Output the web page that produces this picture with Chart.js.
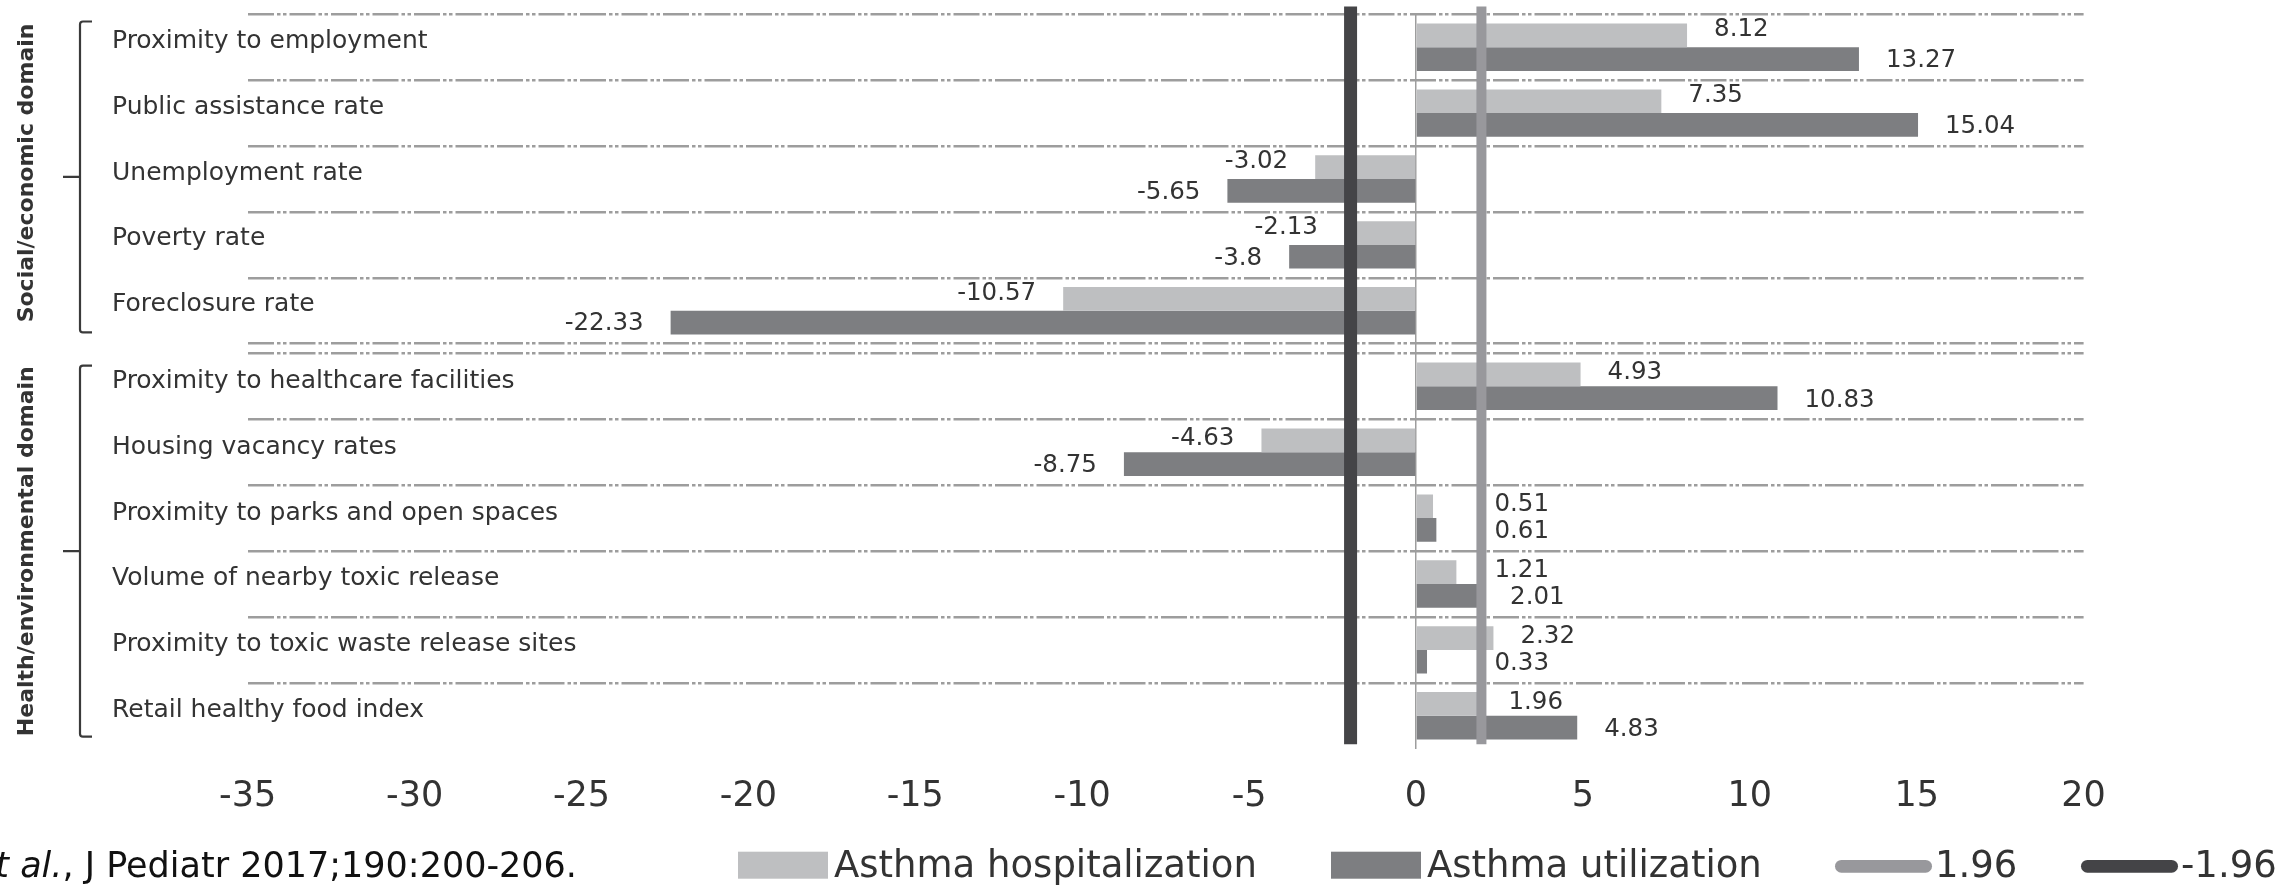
<!DOCTYPE html>
<html>
<head>
<meta charset="utf-8">
<script src="https://cdn.jsdelivr.net/npm/chart.js@4.4.1/dist/chart.umd.min.js"></script>
<style>
  html, body { margin: 0; padding: 0; background: #ffffff; overflow: hidden; }
  canvas { display: block; }
</style>
</head>
<body>
<canvas id="chart" width="2296" height="889"></canvas>
<script>
// ---------------- data ----------------
const socialCategories = ['Proximity to employment', 'Public assistance rate', 'Unemployment rate', 'Poverty rate', 'Foreclosure rate'];
const healthCategories = ['Proximity to healthcare facilities', 'Housing vacancy rates', 'Proximity to parks and open spaces', 'Volume of nearby toxic release', 'Proximity to toxic waste release sites', 'Retail healthy food index'];
const hospitalizationSocial = [8.12, 7.35, -3.02, -2.13, -10.57];
const utilizationSocial = [13.27, 15.04, -5.65, -3.8, -22.33];
const hospitalizationHealth = [4.93, -4.63, 0.51, 1.21, 2.32, 1.96];
const utilizationHealth = [10.83, -8.75, 0.61, 2.01, 0.33, 4.83];
const thresholdValues = [1.96, -1.96];
const thresholdLabels = ['1.96', '-1.96'];
const thresholdSpan = [0, 1];
const seriesNames = ['Asthma hospitalization', 'Asthma utilization'];
const domainTitles = ['Social/economic domain', 'Health/environmental domain'];
const xTickRange = [-35, 20];
const xTickStep = 5;
const citationItalic = 'et al.';
const citationText = ', J Pediatr 2017;190:200-206.';

// ---------------- style ----------------
const FONT = '"DejaVu Sans", sans-serif';
const TEXT = '#333333';
const BAR_LIGHT = '#bebfc1';
const BAR_DARK = '#7d7e81';
const LINE_LIGHT = '#98989c';
const LINE_DARK = '#444447';
const GRID = '#9d9d9d';
const Y_AXIS_WIDTH = 135.7;

// value labels next to bar ends
const valueLabels = {
  id: 'valueLabels',
  afterDatasetsDraw(chart, args, opts) {
    const ctx = chart.ctx;
    const xs = chart.scales.x;
    const guard = xs.getPixelForValue(Math.max(...thresholdValues)) + opts.guard;
    ctx.save();
    ctx.font = opts.size + 'px ' + FONT;
    ctx.fillStyle = TEXT;
    ctx.textBaseline = 'middle';
    chart.data.datasets.forEach((ds, di) => {
      if (ds.type === 'line') return;
      const meta = chart.getDatasetMeta(di);
      const dy = opts.dy[di] || 0;
      meta.data.forEach((el, i) => {
        const v = ds.data[i];
        if (v >= 0) {
          ctx.textAlign = 'left';
          ctx.fillText(String(v), Math.max(el.x + opts.gap, guard), el.y + dy);
        } else {
          ctx.textAlign = 'right';
          ctx.fillText(String(v), el.x - opts.gap, el.y + dy);
        }
      });
    });
    ctx.restore();
  }
};

// domain brackets and rotated titles
const domainBrackets = {
  id: 'domainBrackets',
  afterDraw(chart, args, opts) {
    const ctx = chart.ctx;
    opts.scales.forEach((id, k) => {
      const s = chart.scales[id];
      const top = s.top + opts.inset[k][0];
      const bottom = s.bottom - opts.inset[k][1];
      const mid = (top + bottom) / 2;
      ctx.save();
      ctx.strokeStyle = '#3a3a3a';
      ctx.lineWidth = 2.2;
      ctx.beginPath();
      ctx.moveTo(opts.tickRight, top);
      ctx.lineTo(opts.lineX + 3, top);
      ctx.quadraticCurveTo(opts.lineX, top, opts.lineX, top + 3);
      ctx.lineTo(opts.lineX, bottom - 3);
      ctx.quadraticCurveTo(opts.lineX, bottom, opts.lineX + 3, bottom);
      ctx.lineTo(opts.tickRight, bottom);
      ctx.moveTo(opts.lineX, mid);
      ctx.lineTo(opts.tickLeft, mid);
      ctx.stroke();
      ctx.translate(opts.titleX, mid + opts.titleDy[k]);
      ctx.rotate(-Math.PI / 2);
      ctx.font = 'bold 22px ' + FONT;
      ctx.textAlign = 'center';
      ctx.textBaseline = 'middle';
      ctx.fillStyle = TEXT;
      ctx.fillText(domainTitles[k], 0, 0);
      ctx.restore();
    });
  }
};

// legend row + citation at the bottom
const refLegend = {
  id: 'refLegend',
  afterDraw(chart, args, opts) {
    const ctx = chart.ctx;
    const seen = [];
    const items = [];
    chart.data.datasets.forEach(ds => {
      if (seen.includes(ds.label)) return;
      seen.push(ds.label);
      items.push(ds);
    });
    ctx.save();
    ctx.font = opts.size + 'px ' + FONT;
    ctx.textBaseline = 'alphabetic';
    ctx.textAlign = 'left';
    items.forEach((ds, k) => {
      const x0 = opts.x[k];
      let textX;
      if (ds.type === 'line') {
        ctx.strokeStyle = ds.borderColor;
        ctx.lineWidth = opts.lineHeight;
        ctx.lineCap = 'round';
        ctx.beginPath();
        ctx.moveTo(x0 + opts.lineHeight / 2, opts.lineY);
        ctx.lineTo(x0 + opts.lineLen - opts.lineHeight / 2, opts.lineY);
        ctx.stroke();
        textX = x0 + opts.lineLen + opts.lineGap;
      } else {
        ctx.fillStyle = ds.backgroundColor;
        ctx.fillRect(x0, opts.boxTop, opts.boxW, opts.boxH);
        textX = x0 + opts.boxW + opts.boxGap;
      }
      ctx.fillStyle = TEXT;
      ctx.fillText(ds.label, textX, opts.baseline);
    });
    // citation
    ctx.font = opts.citeSize + 'px ' + FONT;
    ctx.fillStyle = '#111111';
    ctx.textAlign = 'right';
    ctx.fillText(citationText, opts.citeRight, opts.baseline);
    const w = ctx.measureText(citationText).width;
    ctx.font = 'italic ' + opts.citeSize + 'px ' + FONT;
    ctx.fillText(citationItalic, opts.citeRight - w, opts.baseline);
    ctx.restore();
  }
};

const barCommon = { indexAxis: 'y', categoryPercentage: 0.72, barPercentage: 1.0, borderWidth: 0, xAxisID: 'x' };

const datasets = [
  Object.assign({ label: seriesNames[0], data: hospitalizationSocial, backgroundColor: BAR_LIGHT, yAxisID: 'y1', stack: 'hosp' }, barCommon),
  Object.assign({ label: seriesNames[1], data: utilizationSocial, backgroundColor: BAR_DARK, yAxisID: 'y1', stack: 'util' }, barCommon),
  Object.assign({ label: seriesNames[0], data: hospitalizationHealth, backgroundColor: BAR_LIGHT, yAxisID: 'y2', stack: 'hosp' }, barCommon),
  Object.assign({ label: seriesNames[1], data: utilizationHealth, backgroundColor: BAR_DARK, yAxisID: 'y2', stack: 'util' }, barCommon)
];
thresholdValues.forEach((t, k) => {
  datasets.push({
    type: 'line',
    label: thresholdLabels[k],
    data: thresholdSpan.map(v => ({ x: t, y: v })),
    borderColor: k === 0 ? LINE_LIGHT : LINE_DARK,
    backgroundColor: k === 0 ? LINE_LIGHT : LINE_DARK,
    borderWidth: k === 0 ? 10 : 13,
    pointRadius: 0,
    clip: false,
    order: -1,
    xAxisID: 'x',
    yAxisID: 'yLine'
  });
});

const yTicksCommon = {
  mirror: true,
  crossAlign: 'near',
  padding: -Y_AXIS_WIDTH,
  autoSkip: false,
  color: TEXT,
  font: { family: FONT, size: 25 }
};

const yCategoryCommon = {
  type: 'category',
  position: 'left',
  stack: 'rows',
  stacked: true,
  offset: true,
  afterFit: s => { s.width = Y_AXIS_WIDTH; },
  border: { display: false, dash: [26, 3, 3.5, 2.5, 3.5, 3] }
};

new Chart(document.getElementById('chart'), {
  type: 'bar',
  data: { datasets },
  options: {
    indexAxis: 'x',
    responsive: false,
    devicePixelRatio: 1,
    animation: false,
    events: [],
    layout: { padding: { top: 14.3, left: 112, right: 212.4, bottom: 0 } },
    plugins: {
      legend: { display: false },
      tooltip: { enabled: false },
      valueLabels: { size: 24.5, gap: 27, guard: 13, dy: [-5.5, 1.5, -1.5, 2] },
      domainBrackets: {
        scales: ['y1', 'y2'], inset: [[7.2, 11.3], [12.3, 12]],
        lineX: 80, tickRight: 92, tickLeft: 63, titleX: 27, titleDy: [-4, 0]
      },
      refLegend: {
        size: 37, x: [738, 1331, 1835, 2081], boxW: 90, boxH: 27, boxTop: 851.7, boxGap: 6,
        lineLen: 97, lineHeight: 12.7, lineY: 866.3, lineGap: 3, baseline: 876.7,
        citeSize: 35, citeRight: 577
      }
    },
    scales: {
      x: {
        type: 'linear',
        position: 'bottom',
        stacked: false,
        offset: false,
        min: xTickRange[0],
        max: xTickRange[1],
        afterFit: s => { s.height = 140.3; },
        border: { display: false },
        grid: {
          offset: false,
          drawTicks: false,
          lineWidth: 1.5,
          color: c => (c.tick && c.tick.value === 0) ? GRID : 'rgba(0,0,0,0)'
        },
        ticks: {
          stepSize: xTickStep,
          padding: 27,
          color: TEXT,
          font: { family: FONT, size: 35 }
        }
      },
      y1: Object.assign({}, yCategoryCommon, {
        labels: socialCategories,
        stackWeight: socialCategories.length,
        weight: 3,
        grid: { offset: true, drawTicks: false, color: GRID, lineWidth: 2.5 },
        ticks: Object.assign({}, yTicksCommon, { labelOffset: -6 })
      }),
      yGap: {
        type: 'category',
        labels: [''],
        position: 'left',
        stack: 'rows',
        stackWeight: 0.147,
        weight: 2,
        afterFit: s => { s.width = Y_AXIS_WIDTH; },
        border: { display: false },
        grid: { display: false, drawTicks: false },
        ticks: { display: false }
      },
      y2: Object.assign({}, yCategoryCommon, {
        labels: healthCategories,
        stackWeight: healthCategories.length,
        weight: 1,
        grid: {
          offset: true, drawTicks: false, lineWidth: 2.5,
          color: c => c.type === 'tick' ? GRID : 'rgba(0,0,0,0)'
        },
        ticks: Object.assign({}, yTicksCommon, { labelOffset: -5 })
      }),
      yLine: {
        type: 'linear',
        position: 'right',
        display: false,
        offset: false,
        min: -0.006,
        max: 0.9894
      }
    }
  },
  plugins: [valueLabels, domainBrackets, refLegend]
});
</script>
</body>
</html>
